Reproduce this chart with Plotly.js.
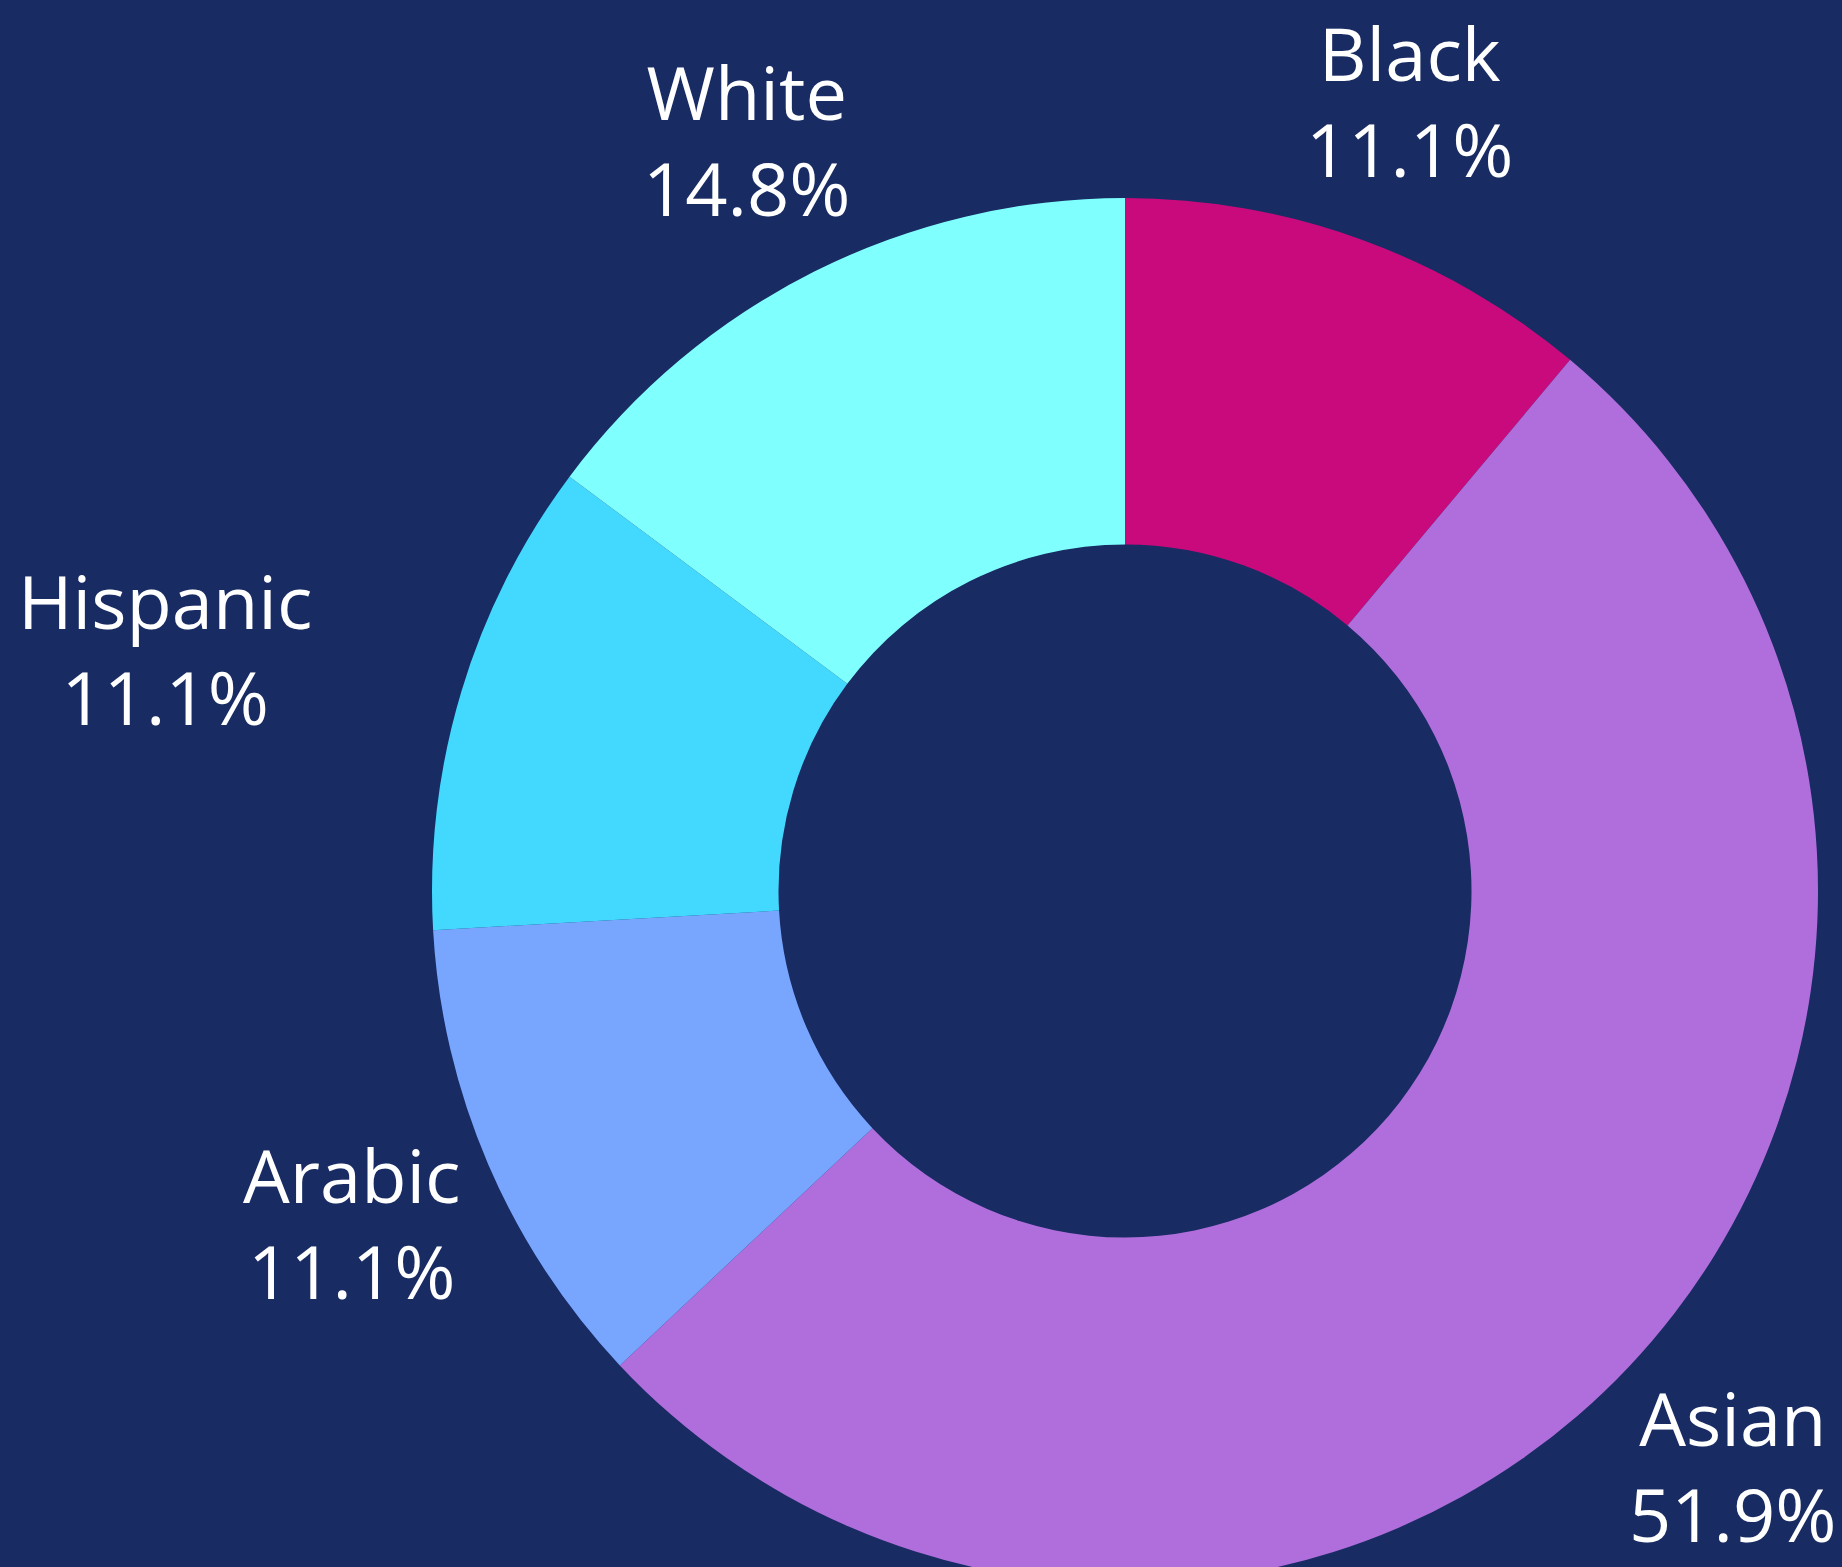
<!DOCTYPE html>
<html>
<head>
<meta charset="utf-8">
<script src="https://cdn.plot.ly/plotly-3.0.1.min.js"></script>
<style>
  html, body { margin: 0; padding: 0; width: 1842px; height: 1567px; overflow: hidden; background: #182B63; }
  #chart { width: 1842px; height: 1600px; }
</style>
</head>
<body>
<div id="chart"></div>
<script>
// Data
const categories = ["Black", "Asian", "Arabic", "Hispanic", "White"];
const shares = [11.1, 51.9, 11.1, 11.1, 14.8];
const sliceColors = ["#C90A7D", "#B06EDC", "#78A6FF", "#43D9FF", "#80FFFF"];

const W = 1842, H = 1600;
const bg = "#182B63";

// label placement (pixel centres), keyed by category
const labelPos = {
  "Black":    [1410, 100],
  "White":    [747, 139],
  "Hispanic": [165, 648],
  "Arabic":   [352, 1222],
  "Asian":    [1733, 1465]
};

const annotations = categories.map((c, i) => ({
  text: c + "<br>" + shares[i].toFixed(1) + "%",
  xref: "paper", yref: "paper",
  x: labelPos[c][0] / W,
  y: 1 - labelPos[c][1] / H,
  xanchor: "center", yanchor: "middle",
  showarrow: false,
  align: "center",
  font: { family: "Open Sans, sans-serif", size: 74, weight: 500, color: "#FFFFFF" }
}));

const cx = 1125, cy = 891, R = 693;

const trace = {
  type: "pie",
  labels: categories,
  values: shares,
  sort: false,
  direction: "clockwise",
  rotation: 0,
  hole: 0.5,
  textinfo: "none",
  hoverinfo: "label+percent",
  marker: { colors: sliceColors, line: { width: 0 } },
  domain: {
    x: [(cx - R) / W, (cx + R) / W],
    y: [1 - (cy + R) / H, 1 - (cy - R) / H]
  },
  showlegend: false
};

const layout = {
  width: W, height: H,
  margin: { l: 0, r: 0, t: 0, b: 0 },
  paper_bgcolor: bg,
  plot_bgcolor: bg,
  showlegend: false,
  annotations: annotations
};

Plotly.newPlot("chart", [trace], layout, { displayModeBar: false, staticPlot: true });
</script>
</body>
</html>
